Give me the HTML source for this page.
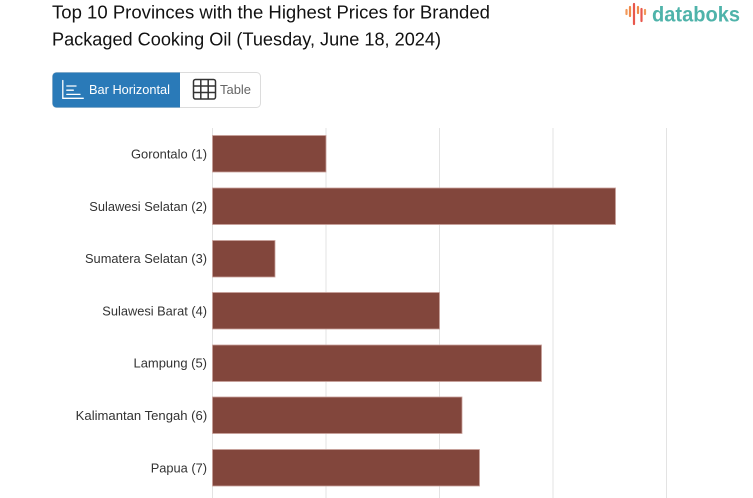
<!DOCTYPE html>
<html><head><meta charset="utf-8"><style>
html,body{margin:0;padding:0;background:#fff;}
body{width:753px;height:498px;overflow:hidden;}
svg{display:block;font-family:"Liberation Sans",sans-serif;}
</style></head><body>
<svg width="753" height="498" viewBox="0 0 753 498" xmlns="http://www.w3.org/2000/svg">
<!-- Title -->
<text x="52" y="18.5" font-size="18" fill="#111" textLength="438" lengthAdjust="spacingAndGlyphs">Top 10 Provinces with the Highest Prices for Branded</text>
<text x="52" y="45.5" font-size="18" fill="#111" textLength="389" lengthAdjust="spacingAndGlyphs">Packaged Cooking Oil (Tuesday, June 18, 2024)</text>

<!-- Logo -->
<g stroke-linecap="round">
<line x1="626.5" y1="10" x2="626.5" y2="14" stroke="#f29a5a" stroke-width="2.2"/>
<line x1="630" y1="7" x2="630" y2="16" stroke="#f08a4b" stroke-width="2.2"/>
<line x1="634" y1="4" x2="634" y2="24" stroke="#e8574c" stroke-width="2.2"/>
<line x1="638" y1="7" x2="638" y2="13" stroke="#f08a4b" stroke-width="2.2"/>
<line x1="641.5" y1="9" x2="641.5" y2="21" stroke="#e8574c" stroke-width="2.2"/>
<line x1="645" y1="10" x2="645" y2="14" stroke="#f29a5a" stroke-width="2.2"/>
</g>
<text x="652" y="21.5" font-size="21.5" font-weight="bold" fill="#4fb3aa" textLength="88" lengthAdjust="spacingAndGlyphs">databoks</text>

<!-- Button group -->
<rect x="52.5" y="72.5" width="208" height="35" rx="4" fill="#fff" stroke="#dcdcdc"/>
<path d="M56.5 72.5 H180 V107.5 H56.5 A4 4 0 0 1 52.5 103.5 V76.5 A4 4 0 0 1 56.5 72.5 Z" fill="#2a7ab8"/>
<g stroke="#fff" stroke-width="1.3" fill="none" stroke-linecap="round">
<path d="M62.8 80.5 V98.3 H83.3"/>
<line x1="66.8" y1="86" x2="76" y2="86"/>
<line x1="66.8" y1="90.2" x2="73.3" y2="90.2"/>
<line x1="66.8" y1="94.4" x2="80" y2="94.4"/>
</g>
<text x="89" y="94" font-size="13" fill="#fff" textLength="81" lengthAdjust="spacingAndGlyphs">Bar Horizontal</text>
<g stroke="#333" stroke-width="1.5" fill="none">
<rect x="193.5" y="79.5" width="22" height="19.5" rx="2"/>
<line x1="200.8" y1="79.5" x2="200.8" y2="99"/>
<line x1="208.2" y1="79.5" x2="208.2" y2="99"/>
<line x1="193.5" y1="86" x2="215.5" y2="86"/>
<line x1="193.5" y1="92.5" x2="215.5" y2="92.5"/>
</g>
<text x="220" y="94" font-size="13" fill="#666" textLength="31" lengthAdjust="spacingAndGlyphs">Table</text>

<!-- Grid -->
<g stroke="#e3e3e3" stroke-width="1">
<line x1="212.5" y1="128" x2="212.5" y2="498"/>
<line x1="326" y1="128" x2="326" y2="498"/>
<line x1="439.5" y1="128" x2="439.5" y2="498"/>
<line x1="553" y1="128" x2="553" y2="498"/>
<line x1="666.5" y1="128" x2="666.5" y2="498"/>
</g>

<!-- Bars -->
<g fill="#82463c" stroke="#c9a09a" stroke-width="0.8">
<rect x="212.5" y="135.5" width="113.5" height="36.5"/>
<rect x="212.5" y="188" width="403" height="36.5"/>
<rect x="212.5" y="240.5" width="62.5" height="36.5"/>
<rect x="212.5" y="292.5" width="227" height="36.5"/>
<rect x="212.5" y="345" width="329" height="36.5"/>
<rect x="212.5" y="397" width="249.5" height="36.5"/>
<rect x="212.5" y="449.5" width="267" height="36.5"/>
</g>

<!-- Labels -->
<g font-size="13" fill="#333">
<text x="131" y="158.5" textLength="76" lengthAdjust="spacingAndGlyphs">Gorontalo (1)</text>
<text x="89.3" y="211" textLength="117.7" lengthAdjust="spacingAndGlyphs">Sulawesi Selatan (2)</text>
<text x="85" y="263.2" textLength="122" lengthAdjust="spacingAndGlyphs">Sumatera Selatan (3)</text>
<text x="102.3" y="315.3" textLength="104.7" lengthAdjust="spacingAndGlyphs">Sulawesi Barat (4)</text>
<text x="133.5" y="367.7" textLength="73.5" lengthAdjust="spacingAndGlyphs">Lampung (5)</text>
<text x="75.7" y="420" textLength="131.5" lengthAdjust="spacingAndGlyphs">Kalimantan Tengah (6)</text>
<text x="150.7" y="472.3" textLength="56.3" lengthAdjust="spacingAndGlyphs">Papua (7)</text>
</g>
</svg>
</body></html>
